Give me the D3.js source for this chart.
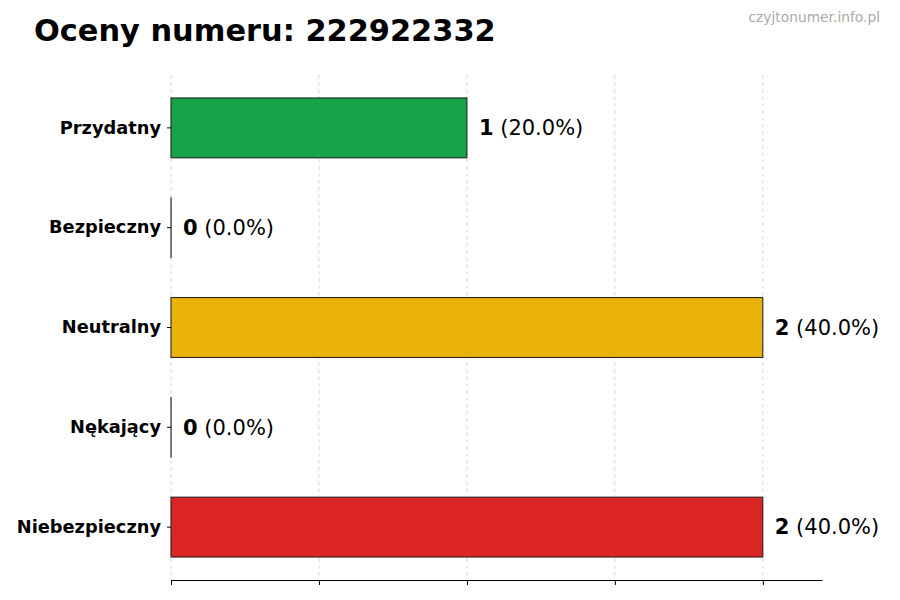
<!DOCTYPE html>
<html>
<head>
<meta charset="utf-8">
<script src="https://cdn.jsdelivr.net/npm/d3@7"></script>
<style>
  body { margin: 0; background: #fff; }
  svg { font-family: 'DejaVu Sans', sans-serif; }
</style>
</head>
<body>
<svg id="chart"></svg>
<script>
const categories = ['Przydatny', 'Bezpieczny', 'Neutralny', 'Nękający', 'Niebezpieczny'];
const counts = [1, 0, 2, 0, 2];
const percents = ['20.0%', '0.0%', '40.0%', '0.0%', '40.0%'];
const barColors = ['#16a34a', '#16a34a', '#eab308', '#eab308', '#dc2626'];
const xTicks = [0, 0.5, 1, 1.5, 2];

const width = 900;
const height = 600;
const plotLeft = 171;
const plotRight = 822;
const plotTop = 75;
const plotBottom = 580;

const svg = d3.select('#chart').attr('width', width).attr('height', height);

const xScale = d3.scaleLinear().domain([0, 2.2]).range([plotLeft, plotRight]);
const yScale = d3
  .scaleBand()
  .domain(categories)
  .range([plotTop, plotBottom])
  .paddingInner(0.4)
  .paddingOuter(0.23);

// grid
svg
  .append('g')
  .selectAll('line')
  .data(xTicks)
  .enter()
  .append('line')
  .attr('x1', (d) => xScale(d))
  .attr('x2', (d) => xScale(d))
  .attr('y1', plotTop)
  .attr('y2', plotBottom)
  .attr('stroke', '#d0d0d0')
  .attr('stroke-width', 0.8)
  .attr('stroke-dasharray', '4,3');

// bars (zero bars still show their outline, like the original)
svg
  .append('g')
  .selectAll('rect')
  .data(categories)
  .enter()
  .append('rect')
  .attr('x', xScale(0))
  .attr('y', (d) => yScale(d))
  .attr('width', (d, i) => Math.max(xScale(counts[i]) - xScale(0), 0.1))
  .attr('height', yScale.bandwidth())
  .attr('fill', (d, i) => barColors[i])
  .attr('stroke', '#1a1a1a')
  .attr('stroke-width', 1);

// value labels
const labels = svg
  .append('g')
  .selectAll('text')
  .data(categories)
  .enter()
  .append('text')
  .attr('x', (d, i) => xScale(counts[i]) + 12)
  .attr('y', (d) => yScale(d) + yScale.bandwidth() / 2)
  .attr('dy', '0.35em')
  .style('font-size', '21px')
  .attr('fill', '#000');
labels
  .append('tspan')
  .style('font-weight', 'bold')
  .text((d, i) => counts[i]);
labels.append('tspan').text((d, i) => ' (' + percents[i] + ')');

// axes
const xAxis = d3.axisBottom(xScale).tickValues(xTicks).tickFormat('').tickSize(5).tickSizeOuter(0);
svg
  .append('g')
  .attr('transform', 'translate(0,' + plotBottom + ')')
  .call(xAxis)
  .call((g) => g.select('.domain').attr('stroke', '#000').attr('stroke-width', 1.1));

const yAxis = d3.axisLeft(yScale).tickSize(4).tickPadding(6);
svg
  .append('g')
  .attr('transform', 'translate(' + plotLeft + ',0)')
  .call(yAxis)
  .call((g) => g.select('.domain').remove())
  .call((g) =>
    g
      .selectAll('text')
      .style('font-size', '17.8px')
      .style('font-weight', 'bold')
      .style('font-family', "'DejaVu Sans', sans-serif")
      .attr('fill', '#000')
  );

// title + watermark
svg
  .append('text')
  .attr('x', 34)
  .attr('y', 41)
  .style('font-size', '30.4px')
  .style('font-weight', 'bold')
  .text('Oceny numeru: 222922332');

svg
  .append('text')
  .attr('x', 880)
  .attr('y', 22)
  .attr('text-anchor', 'end')
  .style('font-size', '13.8px')
  .attr('fill', '#aaaaaa')
  .text('czyjtonumer.info.pl');
</script>
</body>
</html>
